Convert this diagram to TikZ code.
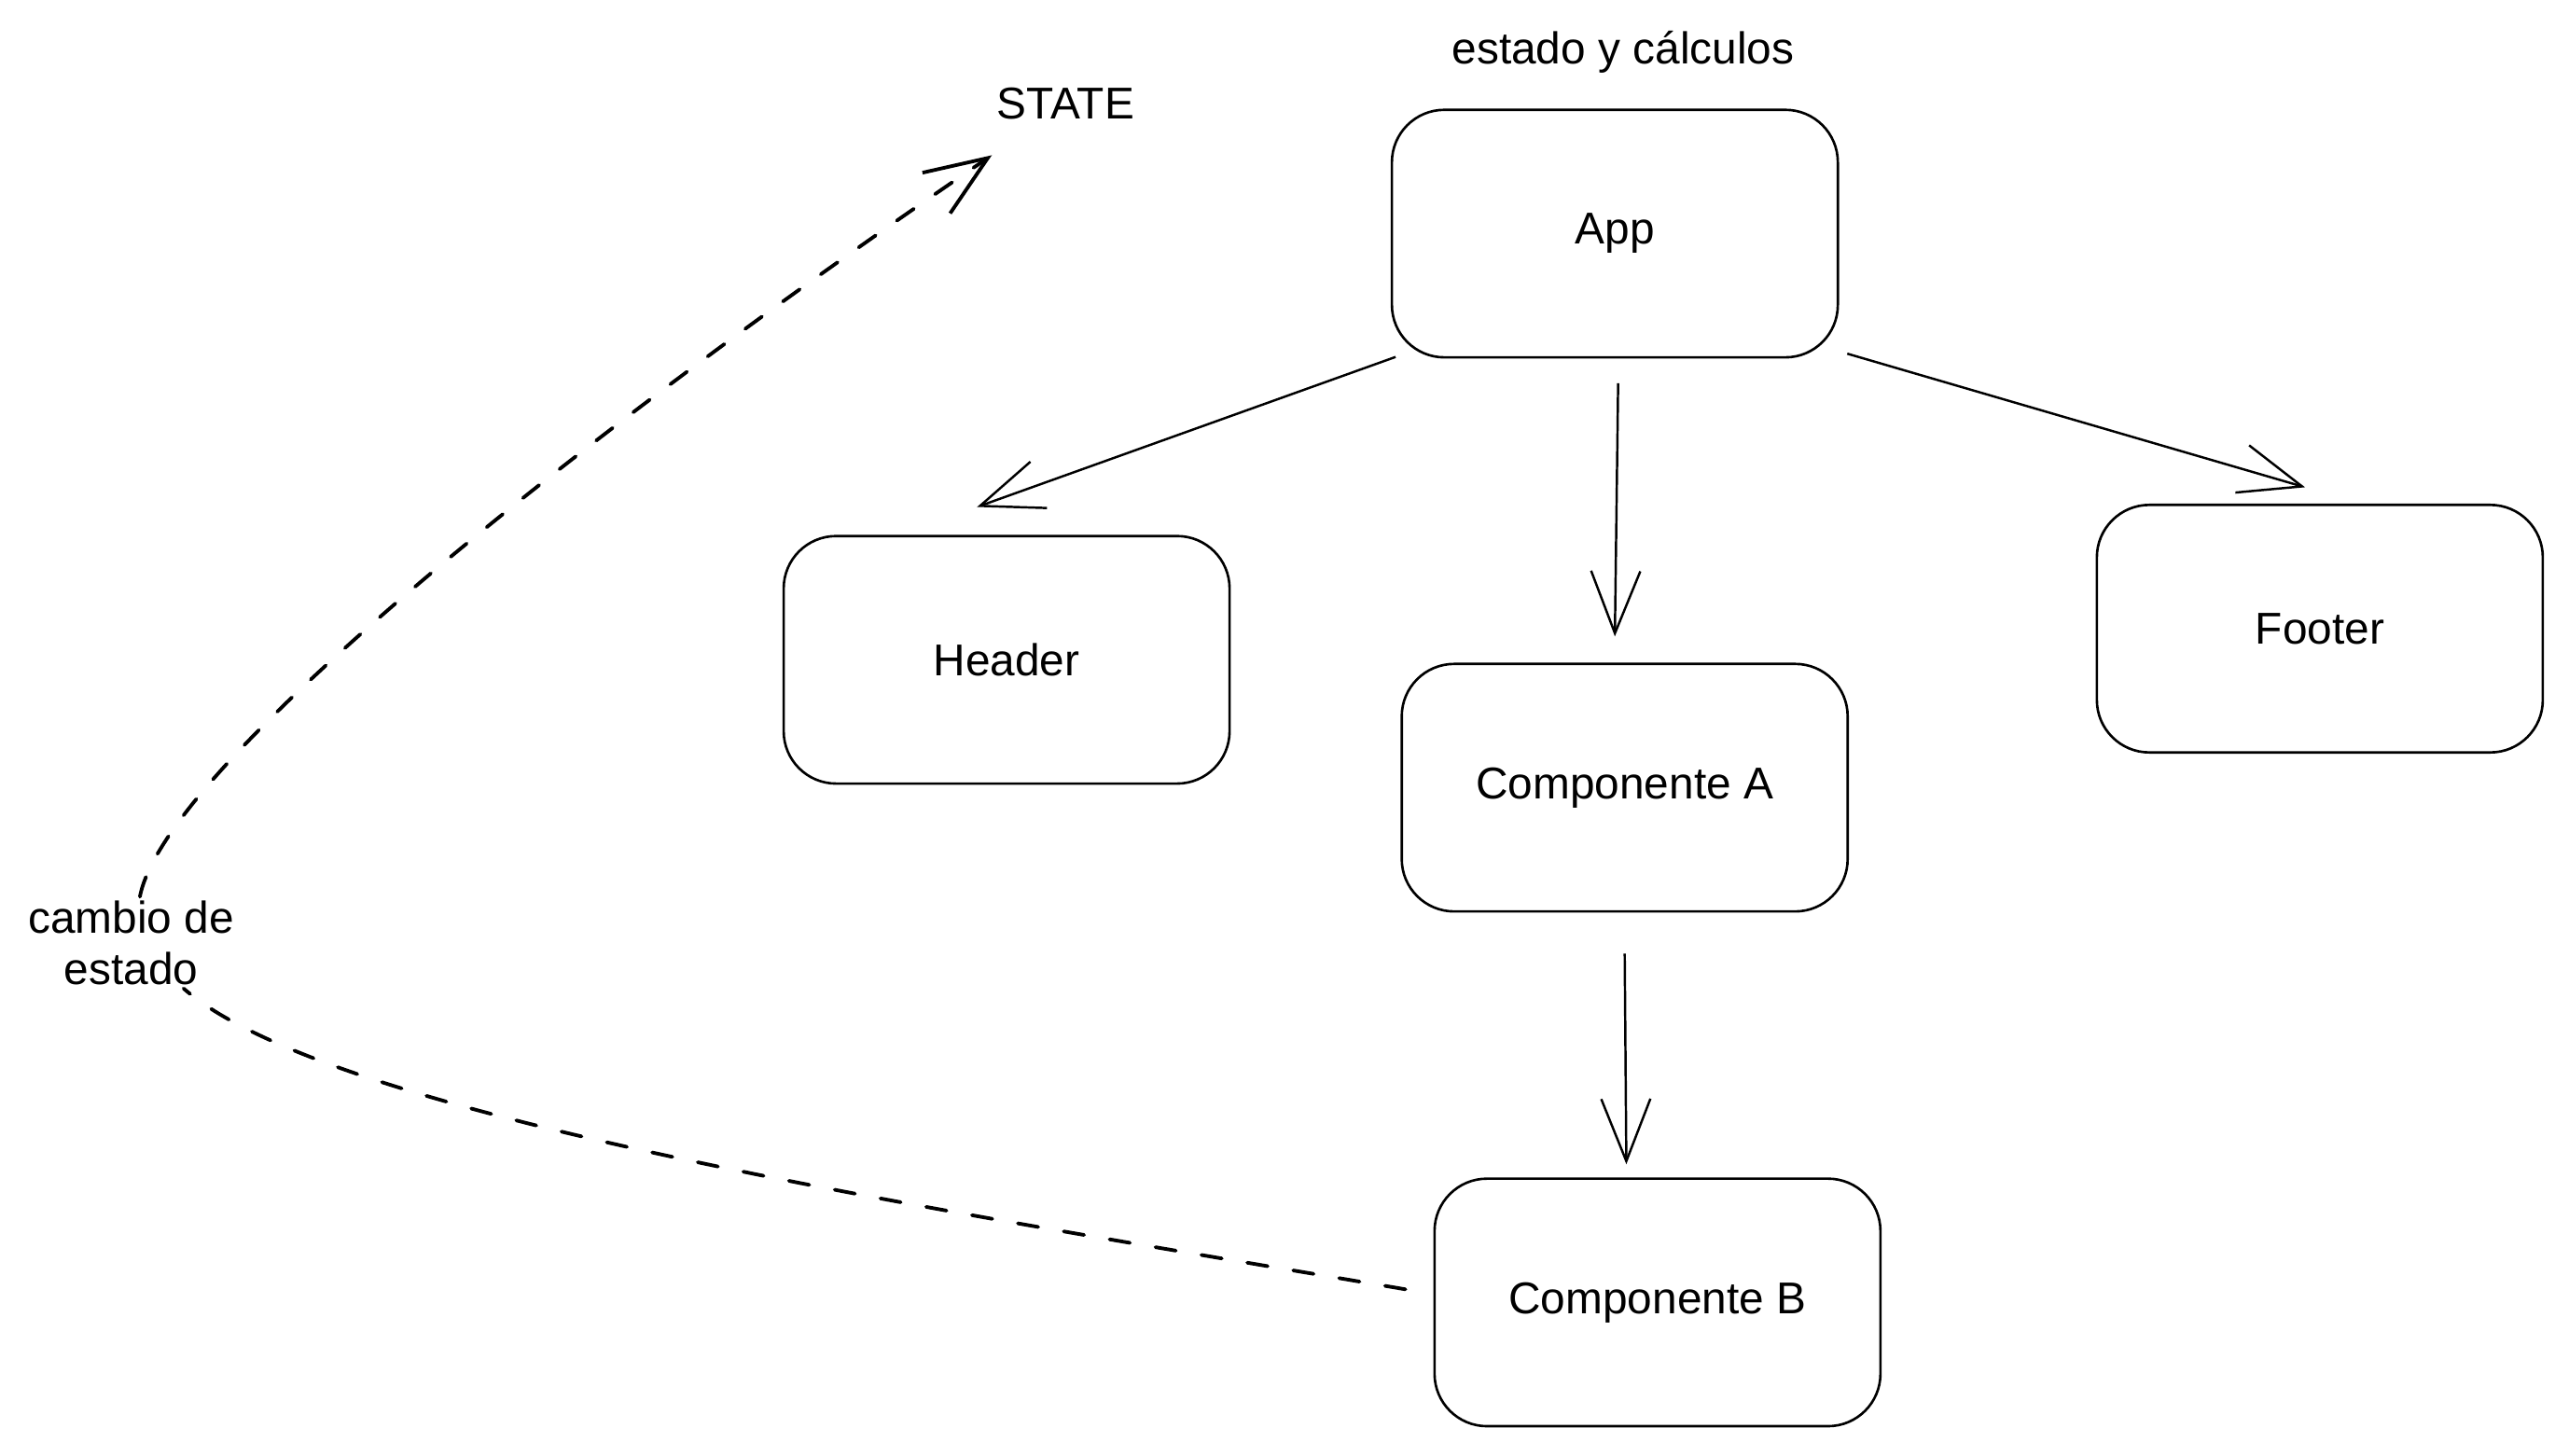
\documentclass[tikz,border=0pt]{standalone}
\usepackage{fontspec}
\setmainfont{Liberation Sans}
\usetikzlibrary{arrows.meta,calc}

\tikzset{
  comp/.style={draw, rounded corners=16pt, minimum width=136pt, minimum height=75.5pt, line width=0.75pt},
  flow/.style={line width=0.7pt, -{Straight Barb[length=19pt,width=15pt]}},
  statechange/.style={flow, dash pattern=on 6.3pt off 7.9pt, line width=1.1pt, line cap=round}
}

\begin{document}
\begin{tikzpicture}[x=0.5pt, y=-0.5pt, font=\fontsize{13.6}{15.6}\selectfont]
\useasboundingbox (0,0) rectangle (1567,887.7);
%
\node [comp] (app)    at (985,142.5)  {App};
\node [comp] (header) at (614,402.5)  {Header};
\node [comp] (compA)  at (991,480.5)  {Componente A};
\node [comp] (footer) at (1415,383.5) {Footer};
\node [comp] (compB)  at (1011,794.5) {Componente B};
%
\node (calc)  at (990,32) {estado y cálculos};
\node (state) at (650,63) {STATE};
\node [align=center, inner sep=1pt] (cambio) at (80,575) {cambio de\\estado};
%
\draw [flow] ($(app.south west)+(3,-1)$) -- ($(header.north)+(-18,-17)$);
\draw [flow] ($(app.south)+(2,15)$) -- ($(compA.north)+(-6,-16)$);
\draw [flow] ($(app.south east)+(5,-3)$) -- ($(footer.north)+(-9,-10)$);
\draw [flow] ($(compA.south)+(0,25)$) -- ($(compB.north)+(-19,-8)$);
%
\draw [statechange] ($(compB.west)+(-17,-8)$) .. controls (558,736) and (200,680) .. (cambio)
      .. controls (100,470) and (340,275) .. ($(state.south)+(-45,15)$);
%%%%%%%%%%%%%%%%%%%%%%%%%%%%%%%
\end{tikzpicture}
\end{document}
